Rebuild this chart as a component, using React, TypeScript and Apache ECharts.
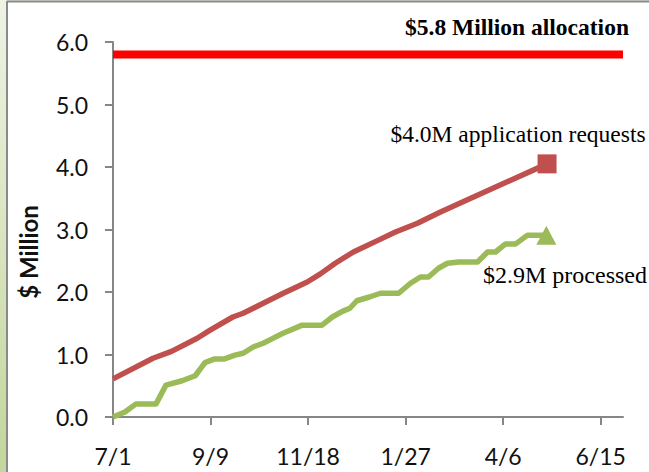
import React, { useEffect, useRef } from "react";
import * as echarts from "echarts";

// Days after 7/1 (fiscal year 7/1 .. 6/30, leap year)
const xTickDays = [0, 70, 140, 210, 280, 350];
const xTickLabels = ["7/1", "9/9", "11/18", "1/27", "4/6", "6/15"];
const yTickValues = [0, 1, 2, 3, 4, 5, 6];

const allocationDays = [0, 366];
const allocationValues = [5.8, 5.8];

const requestDays = [0, 28.7, 42, 60.4, 69.7, 86, 93.4, 107.8, 122.2, 139.4, 148.8, 159.5, 172.5, 190.5, 202.7, 218.5, 235, 311.5];
const requestValues = [0.61, 0.94, 1.05, 1.26, 1.39, 1.6, 1.66, 1.82, 1.98, 2.16, 2.29, 2.46, 2.64, 2.83, 2.96, 3.1, 3.28, 4.05];

const processedDays = [0, 8.6, 16.5, 30.9, 38, 49.6, 59, 66, 73, 80, 87.5, 93.4, 100.6, 107.8, 114, 122, 135.8, 150, 157.4, 164.6, 170, 175, 184, 192, 205, 213.5, 220.6, 226.4, 233.6, 240, 248, 261.6, 268.8, 274.5, 281.7, 289, 297.5, 311];
const processedValues = [0, 0.08, 0.21, 0.21, 0.51, 0.58, 0.66, 0.87, 0.93, 0.93, 0.99, 1.02, 1.12, 1.18, 1.25, 1.34, 1.47, 1.47, 1.6, 1.69, 1.74, 1.86, 1.92, 1.98, 1.98, 2.14, 2.24, 2.24, 2.38, 2.46, 2.48, 2.48, 2.64, 2.64, 2.77, 2.77, 2.91, 2.91];

const allocationLabel = "$5.8 Million allocation";
const requestLabel = "$4.0M application requests";
const processedLabel = "$2.9M processed";
const yAxisTitle = "$ Million";

const zip = (xs: number[], ys: number[]) => xs.map((x, i) => [x, ys[i]]);

export default function App() {
  const ref = useRef<HTMLDivElement>(null);
  useEffect(() => {
    if (!ref.current) return;
    const chart = echarts.init(ref.current, null, { renderer: "svg" });
    const axisColor = "#868686";
    const lastReq = requestDays.length - 1;
    const lastProc = processedDays.length - 1;
    chart.setOption({
      animation: false,
      backgroundColor: "#ffffff",
      grid: { left: 113, right: 26, top: 42, bottom: 55, containLabel: false },
      xAxis: {
        type: "value",
        min: 0,
        max: 366,
        interval: 70,
        splitLine: { show: false },
        axisLine: { show: true, lineStyle: { color: axisColor, width: 2 } },
        axisTick: { show: true, length: 8, lineStyle: { color: axisColor, width: 2 }, customValues: xTickDays },
        axisLabel: {
          customValues: xTickDays,
          margin: 27,
          color: "#111",
          fontFamily: "Lato",
          fontSize: 23,
          formatter: (v: number) => {
            const i = xTickDays.indexOf(v);
            return i >= 0 ? xTickLabels[i] : "";
          },
        },
      },
      yAxis: {
        type: "value",
        min: 0,
        max: 6,
        interval: 1,
        splitLine: { show: false },
        axisLine: { show: true, lineStyle: { color: axisColor, width: 2 } },
        axisTick: { show: true, length: 8, lineStyle: { color: axisColor, width: 2 }, customValues: yTickValues },
        axisLabel: {
          margin: 25,
          color: "#111",
          fontFamily: "Lato",
          fontSize: 23,
          formatter: (v: number) => v.toFixed(1),
        },
      },
      graphic: [
        {
          type: "rect",
          z: -10,
          silent: true,
          shape: { x: 0, y: 0, width: 6, height: 472 },
          style: {
            fill: new echarts.graphic.LinearGradient(0, 0, 0, 1, [
              { offset: 0, color: "#eef3e4" },
              { offset: 1, color: "#c3d69b" },
            ]),
          },
        },
        {
          type: "rect",
          z: -10,
          silent: true,
          shape: { x: 6, y: 0, width: 643, height: 1 },
          style: { fill: "#e8eedd" },
        },
        {
          type: "line",
          z: -9,
          silent: true,
          shape: { x1: 7, y1: 1.5, x2: 649, y2: 1.5 },
          style: { stroke: "#8a8a8a", lineWidth: 2 },
        },
        {
          type: "line",
          z: -9,
          silent: true,
          shape: { x1: 7, y1: 1, x2: 7, y2: 472 },
          style: { stroke: "#8a8a8a", lineWidth: 2 },
        },
        {
          type: "text",
          x: 28,
          y: 252,
          rotation: Math.PI / 2,
          style: {
            text: yAxisTitle,
            align: "center",
            verticalAlign: "middle",
            font: "bold 24px Lato",
            fill: "#111",
          },
        },
        {
          type: "text",
          x: 517,
          y: 27,
          style: {
            text: allocationLabel,
            align: "center",
            verticalAlign: "middle",
            font: "bold 23.5px 'Liberation Serif'",
            fill: "#000",
          },
        },
        {
          type: "text",
          x: 518,
          y: 134,
          style: {
            text: requestLabel,
            align: "center",
            verticalAlign: "middle",
            font: "23.5px 'Liberation Serif'",
            fill: "#000",
          },
        },
        {
          type: "text",
          x: 565,
          y: 275,
          style: {
            text: processedLabel,
            align: "center",
            verticalAlign: "middle",
            font: "24px 'Liberation Serif'",
            fill: "#000",
          },
        },
      ],
      series: [
        {
          name: "Allocation",
          type: "line",
          data: zip(allocationDays, allocationValues),
          symbol: "none",
          lineStyle: { color: "#ff0000", width: 8, cap: "butt" },
          z: 3,
        },
        {
          name: "Requests",
          type: "line",
          data: zip(requestDays, requestValues),
          symbol: "none",
          lineStyle: { color: "#c0504d", width: 5.5, join: "round" },
          z: 3,
        },
        {
          name: "Processed",
          type: "line",
          data: zip(processedDays, processedValues),
          symbol: "none",
          lineStyle: { color: "#9bbb59", width: 5.5, join: "round" },
          z: 3,
        },
        {
          name: "Requests end",
          type: "scatter",
          data: [[requestDays[lastReq], requestValues[lastReq]]],
          symbol: "rect",
          symbolSize: 19,
          itemStyle: { color: "#c0504d", opacity: 1 },
          z: 4,
        },
        {
          name: "Processed end",
          type: "scatter",
          data: [[processedDays[lastProc], processedValues[lastProc]]],
          symbol: "triangle",
          symbolSize: [20, 19],
          itemStyle: { color: "#9bbb59", opacity: 1 },
          z: 4,
        },
      ],
    });
    return () => chart.dispose();
  }, []);
  return (
    <div
      ref={ref}
      style={{ position: "fixed", left: 0, top: 0, width: 649, height: 472, background: "#fff" }}
    />
  );
}
